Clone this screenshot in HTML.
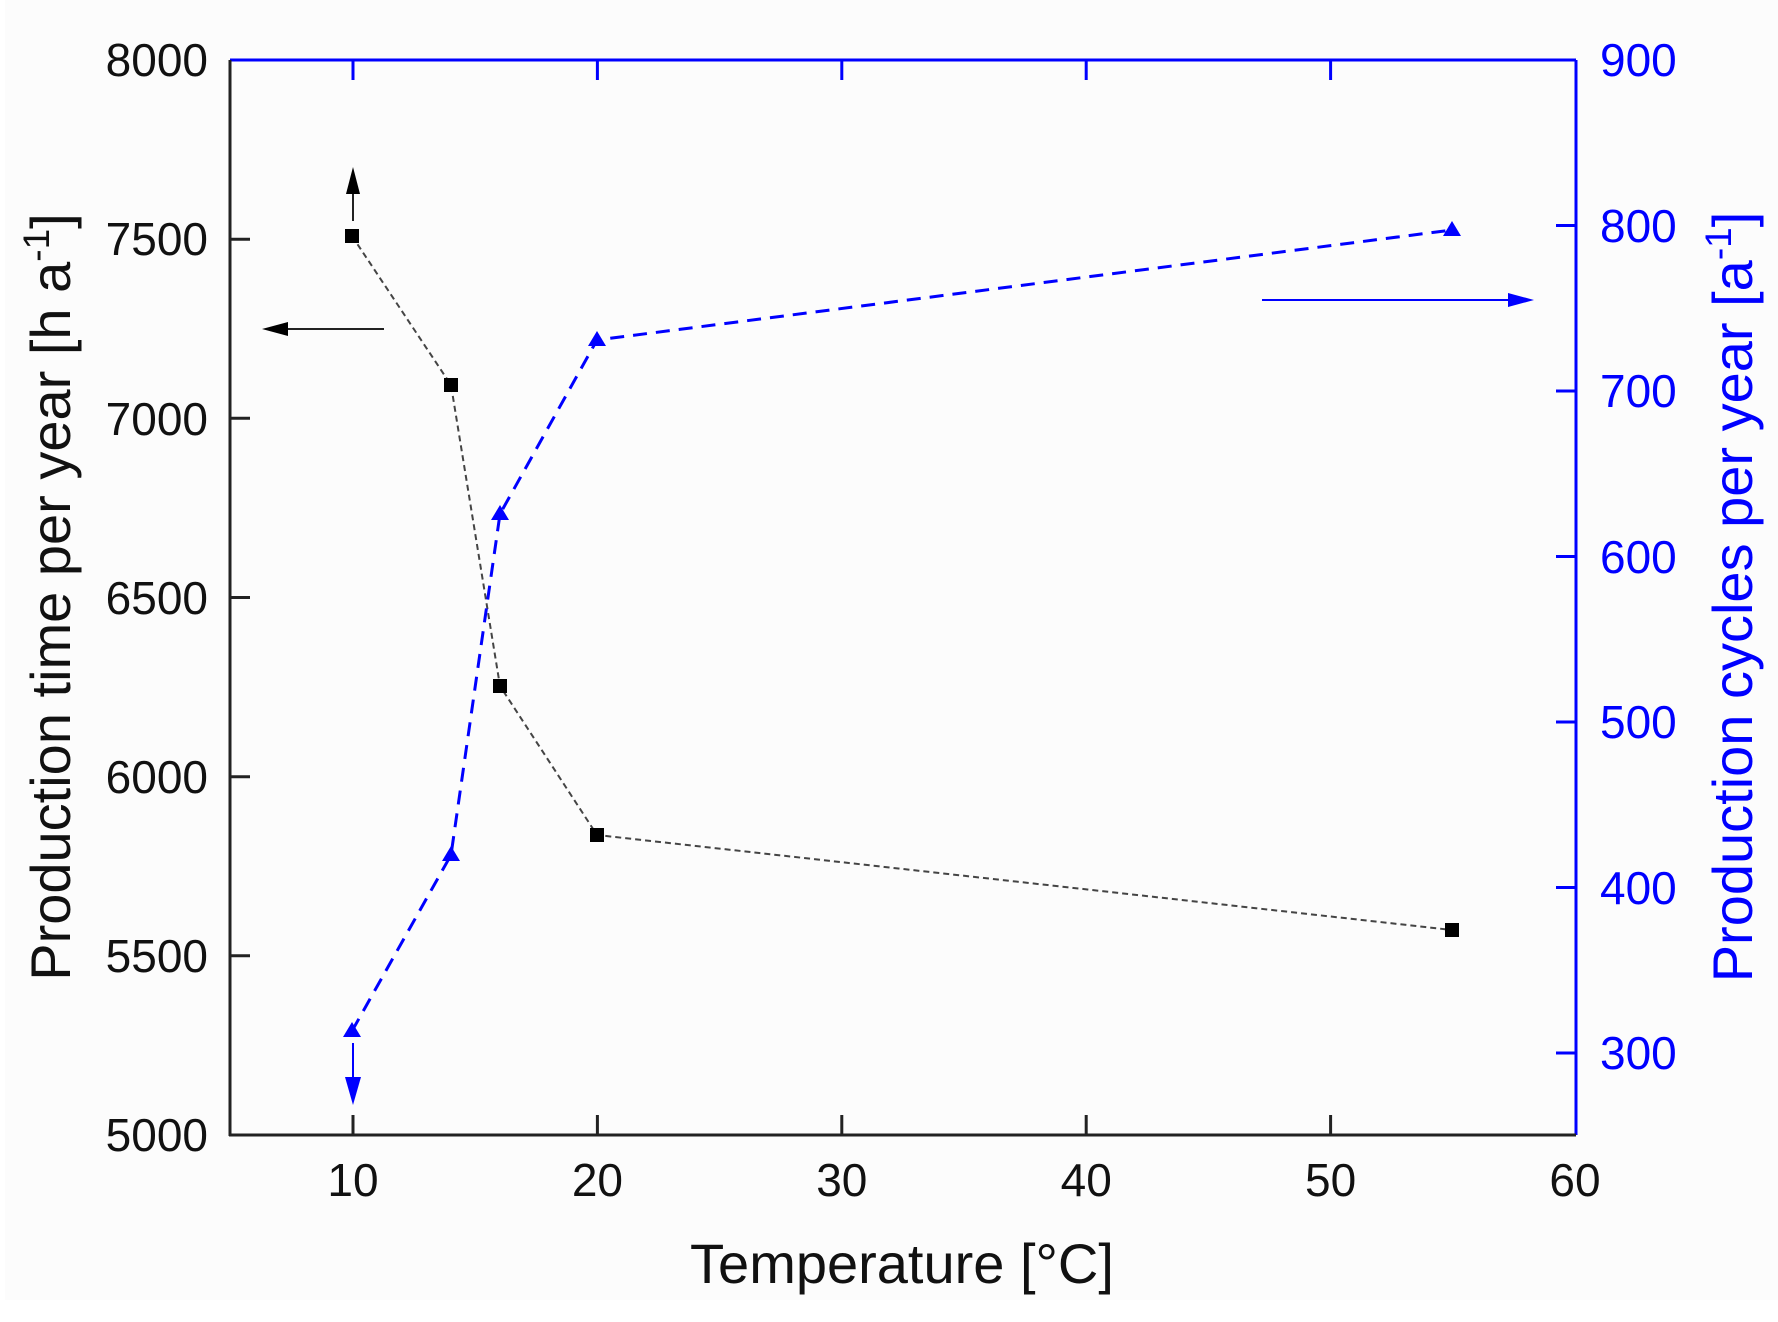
<!DOCTYPE html>
<html><head><meta charset="utf-8"><style>
html,body{margin:0;padding:0;background:#fff}
svg{display:block}
text{font-family:"Liberation Sans",Arial,sans-serif}
</style></head><body>
<svg width="1778" height="1322" viewBox="0 0 1778 1322" xmlns="http://www.w3.org/2000/svg">
<rect x="5" y="0" width="1773" height="1300" fill="#fcfcfc"/>
<g stroke-width="3" fill="none">
<line x1="230" y1="60" x2="1576" y2="60" stroke="#0000ff"/>
<line x1="1576" y1="60" x2="1576" y2="1135" stroke="#0000ff"/>
<line x1="230" y1="60" x2="230" y2="1136" stroke="#222"/>
<line x1="229" y1="1135" x2="1576" y2="1135" stroke="#222"/>
</g>
<g stroke="#222" stroke-width="3">
<line x1="353" y1="1135" x2="353" y2="1115"/>
<line x1="597.4" y1="1135" x2="597.4" y2="1115"/>
<line x1="841.8" y1="1135" x2="841.8" y2="1115"/>
<line x1="1086.2" y1="1135" x2="1086.2" y2="1115"/>
<line x1="1330.6" y1="1135" x2="1330.6" y2="1115"/>
</g>
<g stroke="#0000ff" stroke-width="3">
<line x1="353" y1="60" x2="353" y2="80"/>
<line x1="597.4" y1="60" x2="597.4" y2="80"/>
<line x1="841.8" y1="60" x2="841.8" y2="80"/>
<line x1="1086.2" y1="60" x2="1086.2" y2="80"/>
<line x1="1330.6" y1="60" x2="1330.6" y2="80"/>
</g>
<g stroke="#222" stroke-width="3">
<line x1="230" y1="955.8" x2="250" y2="955.8"/>
<line x1="230" y1="776.7" x2="250" y2="776.7"/>
<line x1="230" y1="597.5" x2="250" y2="597.5"/>
<line x1="230" y1="418.3" x2="250" y2="418.3"/>
<line x1="230" y1="239.2" x2="250" y2="239.2"/>
</g>
<g stroke="#0000ff" stroke-width="3">
<line x1="1576" y1="1053" x2="1556" y2="1053"/>
<line x1="1576" y1="887.5" x2="1556" y2="887.5"/>
<line x1="1576" y1="722" x2="1556" y2="722"/>
<line x1="1576" y1="556.5" x2="1556" y2="556.5"/>
<line x1="1576" y1="391" x2="1556" y2="391"/>
<line x1="1576" y1="225.5" x2="1556" y2="225.5"/>
</g>
<g font-size="46" fill="#111" text-anchor="end">
<text x="208" y="1151">5000</text>
<text x="208" y="972">5500</text>
<text x="208" y="793">6000</text>
<text x="208" y="614">6500</text>
<text x="208" y="435">7000</text>
<text x="208" y="255">7500</text>
<text x="208" y="76">8000</text>
</g>
<g font-size="46" fill="#0000ff">
<text x="1600" y="1069">300</text>
<text x="1600" y="904">400</text>
<text x="1600" y="738">500</text>
<text x="1600" y="573">600</text>
<text x="1600" y="407">700</text>
<text x="1600" y="242">800</text>
<text x="1600" y="76">900</text>
</g>
<g font-size="46" fill="#111" text-anchor="middle">
<text x="353" y="1196">10</text>
<text x="597.4" y="1196">20</text>
<text x="841.8" y="1196">30</text>
<text x="1086.2" y="1196">40</text>
<text x="1330.6" y="1196">50</text>
<text x="1575" y="1196">60</text>
</g>
<text x="902" y="1283" font-size="56" fill="#111" text-anchor="middle">Temperature [°C]</text>
<text transform="translate(70,597) rotate(-90)" font-size="56" fill="#111" text-anchor="middle">Production time per year [h a<tspan dy="-21" font-size="37">-1</tspan><tspan dy="21">]</tspan></text>
<text transform="translate(1752,597) rotate(-90)" font-size="56" fill="#0000ff" text-anchor="middle">Production cycles per year [a<tspan dy="-21" font-size="37">-1</tspan><tspan dy="21">]</tspan></text>
<polyline points="352,236 451,385 500,686 597,835 1452,930" fill="none" stroke="#444" stroke-width="2" stroke-dasharray="6,4"/>
<g fill="#000">
<rect x="345" y="229" width="14" height="14"/>
<rect x="444" y="378" width="14" height="14"/>
<rect x="493" y="679" width="14" height="14"/>
<rect x="590" y="828" width="14" height="14"/>
<rect x="1445" y="923" width="14" height="14"/>
</g>
<polyline points="352,1031 451,855 500,514 597,340 1452,230" fill="none" stroke="#0000ff" stroke-width="3" stroke-dasharray="14,9"/>
<g fill="#0000ff">
<polygon points="352,1022 361,1037 343,1037"/>
<polygon points="451,846 460,861 442,861"/>
<polygon points="500,505 509,520 491,520"/>
<polygon points="597,331 606,346 588,346"/>
<polygon points="1452,221 1461,236 1443,236"/>
</g>
<line x1="353" y1="221" x2="353" y2="185" stroke="#222" stroke-width="2"/>
<polygon points="353,167 346,194 360,194" fill="#000"/>
<line x1="384" y1="329" x2="280" y2="329" stroke="#222" stroke-width="2"/>
<polygon points="262,329 288,322 288,336" fill="#000"/>
<line x1="1262" y1="300" x2="1515" y2="300" stroke="#0000ff" stroke-width="2"/>
<polygon points="1534,300 1508,293 1508,307" fill="#0000ff"/>
<line x1="353" y1="1043" x2="353" y2="1085" stroke="#0000ff" stroke-width="2"/>
<polygon points="353,1105 345,1077 361,1077" fill="#0000ff"/>
</svg>
</body></html>
